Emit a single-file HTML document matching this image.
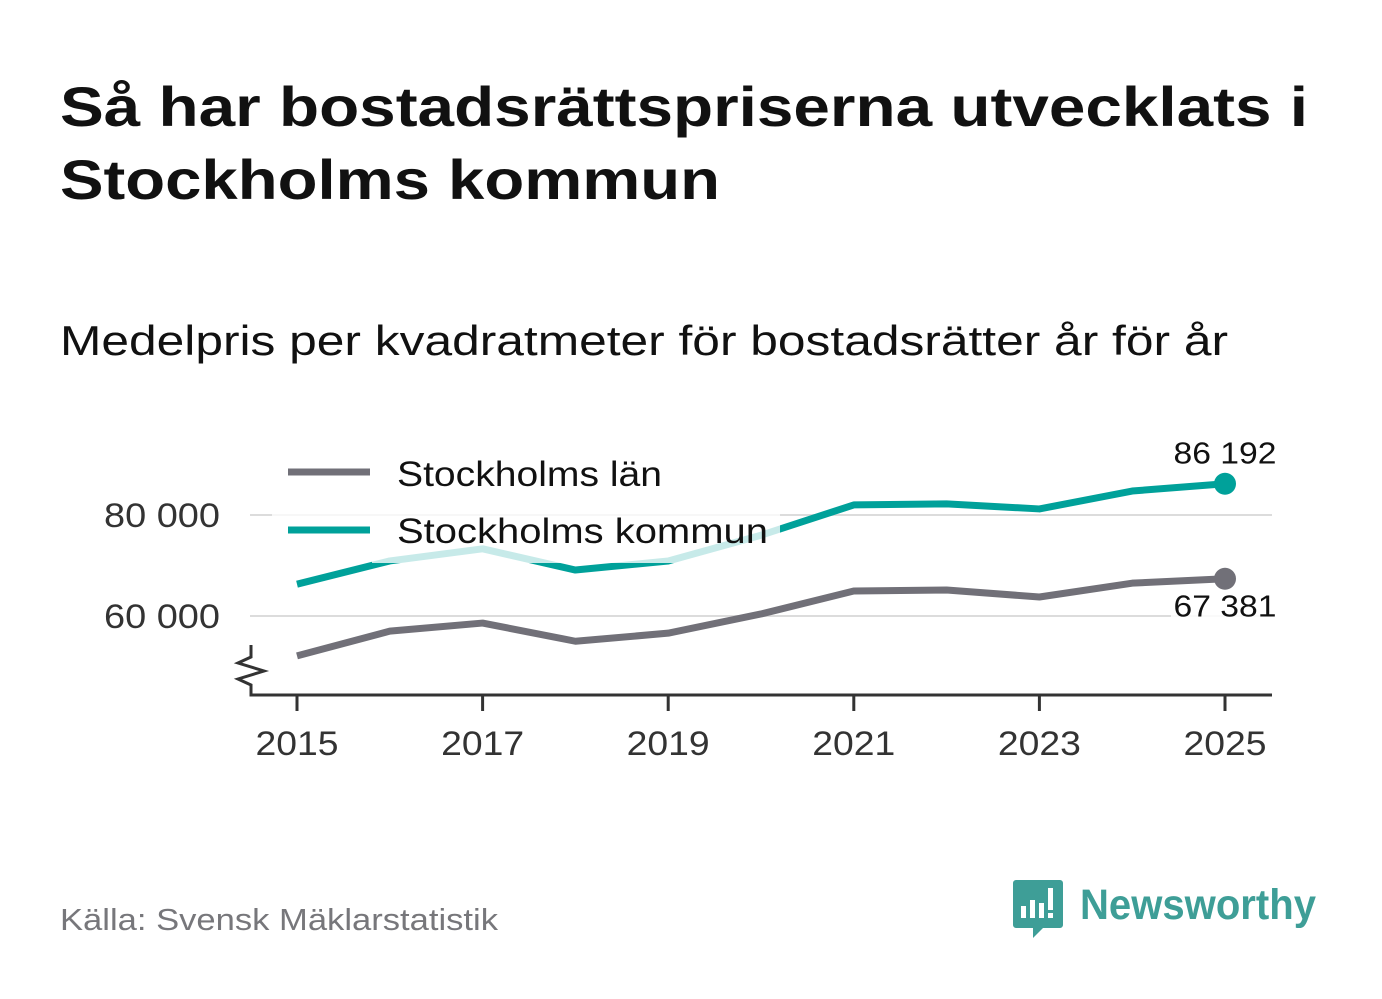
<!DOCTYPE html>
<html><head><meta charset="utf-8"><style>
body{margin:0;background:#fff;font-family:"Liberation Sans",sans-serif}
</style></head><body>
<svg width="1382" height="999" xmlns="http://www.w3.org/2000/svg" style="display:block">
<rect width="1382" height="999" fill="#fff"/>
<text x="60" y="126" font-size="56" font-weight="bold" fill="#111" textLength="1248" lengthAdjust="spacingAndGlyphs">Så har bostadsrättspriserna utvecklats i</text>
<text x="60" y="199" font-size="56" font-weight="bold" fill="#111" textLength="660" lengthAdjust="spacingAndGlyphs">Stockholms kommun</text>
<text x="60" y="355" font-size="42" fill="#111" textLength="1168" lengthAdjust="spacingAndGlyphs">Medelpris per kvadratmeter för bostadsrätter år för år</text>
<g id="grid"></g>
<g id="lines"></g>
<rect x="272" y="446" width="100" height="104" fill="#fff" opacity="0.78"/>
<rect x="372" y="446" width="408" height="117" fill="#fff" opacity="0.78"/>
<g>
<line x1="288" y1="472" x2="370" y2="472" stroke="#717078" stroke-width="7"/>
<text x="397" y="486" font-size="35" fill="#111" textLength="265" lengthAdjust="spacingAndGlyphs">Stockholms län</text>
<line x1="288" y1="530" x2="370" y2="530" stroke="#00a19a" stroke-width="7"/>
<text x="397" y="543" font-size="35" fill="#111" textLength="371" lengthAdjust="spacingAndGlyphs">Stockholms kommun</text>
</g>
<g id="axes"></g>
<g><text x="60" y="930" font-size="31" fill="#77777b" textLength="438" lengthAdjust="spacingAndGlyphs">Källa: Svensk Mäklarstatistik</text></g>
<g>
<path d="M1016 880h44a3 3 0 0 1 3 3v42a3 3 0 0 1-3 3h-17l-10 10v-10h-17a3 3 0 0 1-3-3v-42a3 3 0 0 1 3-3z" fill="#3e9e97"/>
<rect x="1021" y="906" width="5" height="12" fill="#fff"/><rect x="1030" y="900" width="5" height="18" fill="#fff"/><rect x="1039" y="903" width="5" height="15" fill="#fff"/><rect x="1048" y="888" width="5" height="22" fill="#fff"/><rect x="1048" y="913" width="5" height="5" fill="#fff"/>
<text x="1080" y="919" font-size="43" font-weight="bold" fill="#3e9e97" textLength="236" lengthAdjust="spacingAndGlyphs">Newsworthy</text>
</g>
</svg>
<script>
const years=[2015,2016,2017,2018,2019,2020,2021,2022,2023,2024,2025];
const lan=[52100,57000,58600,55000,56600,60400,64950,65150,63760,66500,67381];
const kommun=[66300,70900,73300,69100,70900,76000,82000,82200,81200,84750,86192];
const yTicks=[60000,80000];
const xTicks=[2015,2017,2019,2021,2023,2025];
const NS="http://www.w3.org/2000/svg";
const X=y=>297+(y-2015)*92.8;
const Y=v=>515-(v-80000)*0.00505;
const fmt=v=>String(v).replace(/\B(?=(\d{3})+(?!\d))/g,' ');
function mk(t,a,p){const e=document.createElementNS(NS,t);for(const k in a)e.setAttribute(k,a[k]);p.appendChild(e);return e;}
const g=document.getElementById('grid'),L=document.getElementById('lines'),A=document.getElementById('axes');
yTicks.forEach(v=>{
 const l=mk('line',{x1:250,x2:1272,y1:Y(v),y2:Y(v),stroke:'#dcdcdc','stroke-width':2},g);
 
 
 const t=mk('text',{x:220,y:Y(v)+12,'font-size':34,fill:'#333','text-anchor':'end',textLength:116,lengthAdjust:'spacingAndGlyphs'},g);
 
 
 t.textContent=fmt(v);
});
function series(vals,color,name){
 const p=mk('polyline',{points:vals.map((v,i)=>X(years[i])+','+Y(v)).join(' '),fill:'none',stroke:color,'stroke-width':7,'stroke-linejoin':'round'},L);
 
 
 const n=vals.length-1;
 const c=mk('circle',{cx:X(years[n]),cy:Y(vals[n]),r:11,fill:color},L);
 
 
}
series(lan,'#717078','lan');
series(kommun,'#00a19a','kommun');
const n=years.length-1;
const t1=mk('text',{x:X(years[n]),y:Y(kommun[n])-20,'font-size':31,fill:'#111','text-anchor':'middle',textLength:103,lengthAdjust:'spacingAndGlyphs'},L);


t1.textContent=fmt(kommun[n]);
const bg=mk('rect',{x:X(years[n])-54,y:Y(lan[n])+12,width:108,height:34,fill:'#fff',opacity:0.85},L);


const t2=mk('text',{x:X(years[n]),y:Y(lan[n])+38,'font-size':31,fill:'#111','text-anchor':'middle',textLength:103,lengthAdjust:'spacingAndGlyphs'},L);


t2.textContent=fmt(lan[n]);
const ax=mk('path',{d:'M251 645 v12 l-13 6 l26 8 l-26 8 l13 6 v10 H1272',fill:'none',stroke:'#333','stroke-width':3},A);


xTicks.forEach(y=>{
 const l=mk('line',{x1:X(y),x2:X(y),y1:695,y2:711,stroke:'#333','stroke-width':3},A);
 
 
 const t=mk('text',{x:X(y),y:755,'font-size':34,fill:'#333','text-anchor':'middle',textLength:83,lengthAdjust:'spacingAndGlyphs'},A);
 
 
 t.textContent=y;
});
</script>
</body></html>
